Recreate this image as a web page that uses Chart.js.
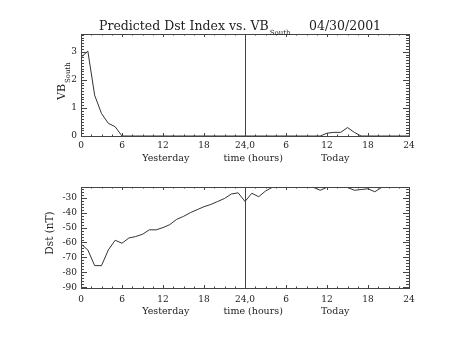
<!DOCTYPE html>
<html>
<head>
<meta charset="utf-8">
<title>Predicted Dst Index vs. VB South</title>
<script src="https://cdn.jsdelivr.net/npm/chart.js@4.4.1/dist/chart.umd.min.js"></script>
<style>
  html, body { margin: 0; padding: 0; background: #fff; }
  canvas { position: absolute; left: 0; }
</style>
</head>
<body>
<canvas id="vbChart" width="454" height="170" style="top:0"></canvas>
<canvas id="dstChart" width="454" height="171" style="top:170px"></canvas>
<script>
// --- Data: hourly values, yesterday 0-24 then today 0-24 ---
const hours = [0,1,2,3,4,5,6,7,8,9,10,11,12,13,14,15,16,17,18,19,20,21,22,23,24,
               25,26,27,28,29,30,31,32,33,34,35,36,37,38,39,40,41,42,43,44,45,46,47,48];

const vbSouth = [2.8, 3.02, 1.45, 0.8, 0.45, 0.33, 0, 0, 0, 0, 0, 0, 0, 0, 0, 0, 0, 0, 0, 0, 0, 0, 0, 0, 0,
                 0, 0, 0, 0, 0, 0, 0, 0, 0, 0, 0, 0.1, 0.13, 0.13, 0.3, 0.13, 0, 0, 0, 0, 0, 0, 0, 0];

const dstIndex = [-61, -65, -75.5, -75.5, -65, -58.5, -60.5, -57, -56, -54.5, -51.5, -51.5, -50, -48, -44.5,
                  -42.5, -40, -38, -36, -34.5, -32.5, -30.5, -27.5, -26.7, -32.5,
                  -27, -29.3, -25.5, -23, -23, -23, -23, -23, -23, -23, -25, -23, -23, -23, -23,
                  -25, -24.5, -24, -26, -23, -23, -23, -23, -23];

const xTickValues = [0, 6, 12, 18, 24, 30, 36, 42, 48];
const xTickLabels = ['0', '6', '12', '18', '24,0', '6', '12', '18', '24'];
const dayLabels = ['Yesterday', 'time (hours)', 'Today'];
const vbTickValues = [0, 1, 2, 3];
const dstTickValues = [-90, -80, -70, -60, -50, -40, -30];
const dayBoundary = 24;

const FONT = '"DejaVu Serif", "Liberation Serif", serif';
const INK = '#222';
const FRAME = '#444';

function seg(ctx, x1, y1, x2, y2) {
    ctx.beginPath();
    ctx.moveTo(x1, y1);
    ctx.lineTo(x2, y2);
    ctx.stroke();
}

// IDL-style box: inward ticks on all four sides, labels, day boundary
function idlAxes(opts) {
    return {
        id: 'idlAxes',
        afterDraw(chart) {
            const { ctx, chartArea: a, scales: { x, y } } = chart;
            ctx.save();
            ctx.strokeStyle = FRAME;
            ctx.lineWidth = 1;
            ctx.strokeRect(a.left + 0.5, a.top + 0.5, a.right - a.left, a.bottom - a.top);

            const bx = Math.round(x.getPixelForValue(dayBoundary)) + 0.5;
            seg(ctx, bx, a.top, bx, a.bottom);

            // x ticks (short, IDL default)
            for (let h = 0; h <= 48; h += 1.5) {
                const px = Math.round(x.getPixelForValue(h)) + 0.5;
                const len = (h % 6 === 0) ? 3 : 1.5;
                seg(ctx, px, a.bottom, px, a.bottom - len);
                seg(ctx, px, a.top, px, a.top + len);
            }
            // y ticks
            for (let v = opts.minorStart; v <= y.max + 1e-6; v += opts.minorStep) {
                const py = Math.round(y.getPixelForValue(v)) + 0.5;
                const major = opts.yTicks.some(t => Math.abs(t - v) < 1e-6);
                const len = major ? 6 : 3;
                seg(ctx, a.left, py, a.left + len, py);
                seg(ctx, a.right, py, a.right - len, py);
            }

            ctx.fillStyle = INK;
            ctx.font = '9px ' + FONT;
            ctx.textAlign = 'center';
            ctx.textBaseline = 'middle';
            xTickValues.forEach((v, i) => {
                ctx.fillText(xTickLabels[i], x.getPixelForValue(v), a.bottom + opts.xLabelGap);
            });
            ctx.font = '9.5px ' + FONT;
            const dayPos = [12.4, 25.2, 37.2];
            dayLabels.forEach((t, i) => {
                ctx.fillText(t, x.getPixelForValue(dayPos[i]), a.bottom + opts.dayGap);
            });

            ctx.font = '9px ' + FONT;
            ctx.textAlign = 'right';
            opts.yTicks.forEach(v => {
                ctx.fillText(opts.yFormat(v), a.left - 4, y.getPixelForValue(v));
            });

            opts.extra && opts.extra(ctx, a);
            ctx.restore();
        }
    };
}

function lineConfig(values, yMin, yMax, padding, plugin) {
    return {
        type: 'line',
        data: {
            labels: hours,
            datasets: [{
                data: hours.map((h, i) => ({ x: h, y: values[i] })),
                borderColor: '#333',
                borderWidth: 1,
                pointRadius: 0,
                tension: 0,
                fill: false
            }]
        },
        options: {
            responsive: false,
            animation: false,
            layout: { padding: padding },
            plugins: { legend: { display: false }, tooltip: { enabled: false } },
            scales: {
                x: { type: 'linear', min: 0, max: 48, display: false },
                y: { min: yMin, max: yMax, display: false }
            }
        },
        plugins: [plugin]
    };
}

// --- Top panel: VB South ---
new Chart(document.getElementById('vbChart'), lineConfig(
    vbSouth, 0, 3.63,
    { left: 81, right: 45, top: 34, bottom: 34 },
    idlAxes({
        yTicks: vbTickValues, minorStart: 0, minorStep: 0.1,
        yFormat: v => String(v), xLabelGap: 10, dayGap: 22.5,
        extra(ctx) {
            // title with subscript
            ctx.textAlign = 'left';
            ctx.textBaseline = 'alphabetic';
            ctx.font = '12.5px ' + FONT;
            const main = 'Predicted Dst Index vs. VB';
            const mainW = ctx.measureText(main).width;
            ctx.fillText(main, 99, 30);
            ctx.fillText('04/30/2001', 309, 30);
            ctx.font = '7px ' + FONT;
            ctx.fillText('South', 99 + mainW + 1, 35);

            // rotated y title
            ctx.save();
            ctx.translate(65, 100);
            ctx.rotate(-Math.PI / 2);
            ctx.font = '11px ' + FONT;
            ctx.fillText('VB', 0, 0);
            const w = ctx.measureText('VB').width;
            ctx.font = '7px ' + FONT;
            ctx.fillText('South', w + 1, 4.5);
            ctx.restore();
        }
    })
));

// --- Bottom panel: Dst ---
new Chart(document.getElementById('dstChart'), lineConfig(
    dstIndex, -90.5, -22.8,
    { left: 81, right: 45, top: 17, bottom: 53 },
    idlAxes({
        yTicks: dstTickValues, minorStart: -90, minorStep: 2,
        yFormat: v => String(v), xLabelGap: 12, dayGap: 23.5,
        extra(ctx) {
            ctx.save();
            ctx.translate(53, 63);
            ctx.rotate(-Math.PI / 2);
            ctx.textAlign = 'center';
            ctx.textBaseline = 'alphabetic';
            ctx.font = '10.5px ' + FONT;
            ctx.fillText('Dst (nT)', 0, 0);
            ctx.restore();
        }
    })
));
</script>
</body>
</html>
